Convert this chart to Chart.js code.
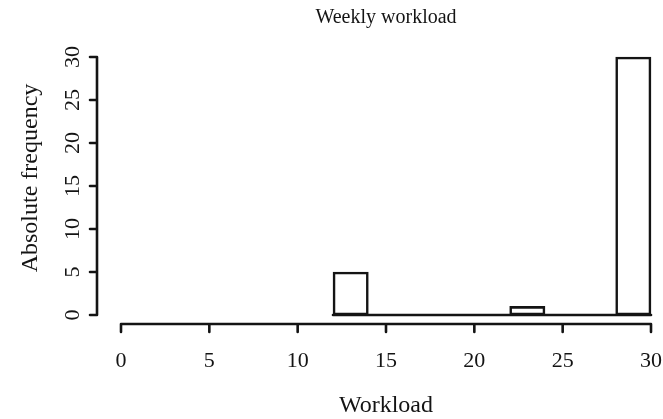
<!DOCTYPE html>
<html>
<head>
<meta charset="utf-8">
<script src="https://cdn.jsdelivr.net/npm/chart.js@4.4.1/dist/chart.umd.min.js"></script>
<style>
  html, body { margin: 0; padding: 0; background: #fff; }
  #wrap { width: 663px; height: 419px; }
</style>
</head>
<body>
<div id="wrap"><canvas id="hist"></canvas></div>
<script>
// histogram data (bin edges and counts)
const breaks = [12, 14, 16, 18, 20, 22, 24, 26, 28, 30];
const counts = [5, 0, 0, 0, 0, 1, 0, 0, 30];
const xTicks = [0, 5, 10, 15, 20, 25, 30];
const yTicks = [0, 5, 10, 15, 20, 25, 30];

const titleText = 'Weekly workload';
const xTitle = 'Workload';
const yTitle = 'Absolute frequency';

const ink = '#141414';
const serif = '"Liberation Serif", "DejaVu Serif", serif';

// bar centers from the breaks
const barPoints = counts.map((c, i) => ({ x: (breaks[i] + breaks[i + 1]) / 2, y: c }));

// R-style detached axes, drawn off the chart scales
const rAxes = {
  id: 'rAxes',
  afterDraw(chart) {
    const ctx = chart.ctx;
    const xs = chart.scales.x, ys = chart.scales.y;
    ctx.save();
    ctx.strokeStyle = ink;
    ctx.fillStyle = ink;
    ctx.lineWidth = 2.6;
    ctx.lineCap = 'round';
    ctx.lineJoin = 'round';

    // y axis
    const yAxisX = xs.left - 24;
    ctx.beginPath();
    ctx.moveTo(yAxisX, ys.getPixelForValue(yTicks[0]));
    ctx.lineTo(yAxisX, ys.getPixelForValue(yTicks[yTicks.length - 1]));
    yTicks.forEach(v => {
      const p = ys.getPixelForValue(v);
      ctx.moveTo(yAxisX, p);
      ctx.lineTo(yAxisX - 7, p);
    });
    ctx.stroke();
    ctx.font = '22px ' + serif;
    ctx.textAlign = 'center';
    ctx.textBaseline = 'middle';
    yTicks.forEach(v => {
      const p = ys.getPixelForValue(v);
      ctx.save();
      ctx.translate(yAxisX - 24, p);
      ctx.rotate(-Math.PI / 2);
      ctx.fillText(String(v), 0, 0);
      ctx.restore();
    });

    // x axis
    const xAxisY = ys.bottom + 9;
    ctx.beginPath();
    ctx.moveTo(xs.getPixelForValue(xTicks[0]), xAxisY);
    ctx.lineTo(xs.getPixelForValue(xTicks[xTicks.length - 1]), xAxisY);
    xTicks.forEach(v => {
      const p = xs.getPixelForValue(v);
      ctx.moveTo(p, xAxisY);
      ctx.lineTo(p, xAxisY + 8);
    });
    ctx.stroke();
    xTicks.forEach(v => {
      ctx.fillText(String(v), xs.getPixelForValue(v), xAxisY + 37);
    });

    // titles
    ctx.font = '20px ' + serif;
    ctx.fillText(titleText, (xs.left + xs.right) / 2, 18);
    ctx.font = '24px ' + serif;
    ctx.fillText(xTitle, (xs.left + xs.right) / 2, 406);
    ctx.save();
    ctx.translate(31, (ys.top + ys.bottom) / 2 - 8);
    ctx.rotate(-Math.PI / 2);
    ctx.fillText(yTitle, 0, 0);
    ctx.restore();
    ctx.restore();
  }
};

new Chart(document.getElementById('hist'), {
  type: 'bar',
  data: {
    datasets: [
      {
        type: 'line',
        data: [{ x: breaks[0], y: 0 }, { x: breaks[breaks.length - 1], y: 0 }],
        borderColor: ink,
        borderWidth: 2.6,
        borderCapStyle: 'round',
        pointRadius: 0,
        clip: false,
        order: 0
      },
      {
        data: barPoints,
        backgroundColor: '#ffffff',
        borderColor: ink,
        borderWidth: 2.6,
        borderSkipped: false,
        barPercentage: 1,
        categoryPercentage: 1,
        clip: false,
        order: 1
      }
    ]
  },
  options: {
    responsive: true,
    maintainAspectRatio: false,
    animation: false,
    layout: { padding: { left: 121, right: 12, top: 57, bottom: 104 } },
    plugins: { legend: { display: false }, tooltip: { enabled: false }, title: { display: false } },
    scales: {
      x: { type: 'linear', min: 0, max: 30, display: false, offset: false },
      y: { type: 'linear', min: 0, max: 30, display: false }
    }
  },
  plugins: [rAxes]
});
</script>
</body>
</html>
